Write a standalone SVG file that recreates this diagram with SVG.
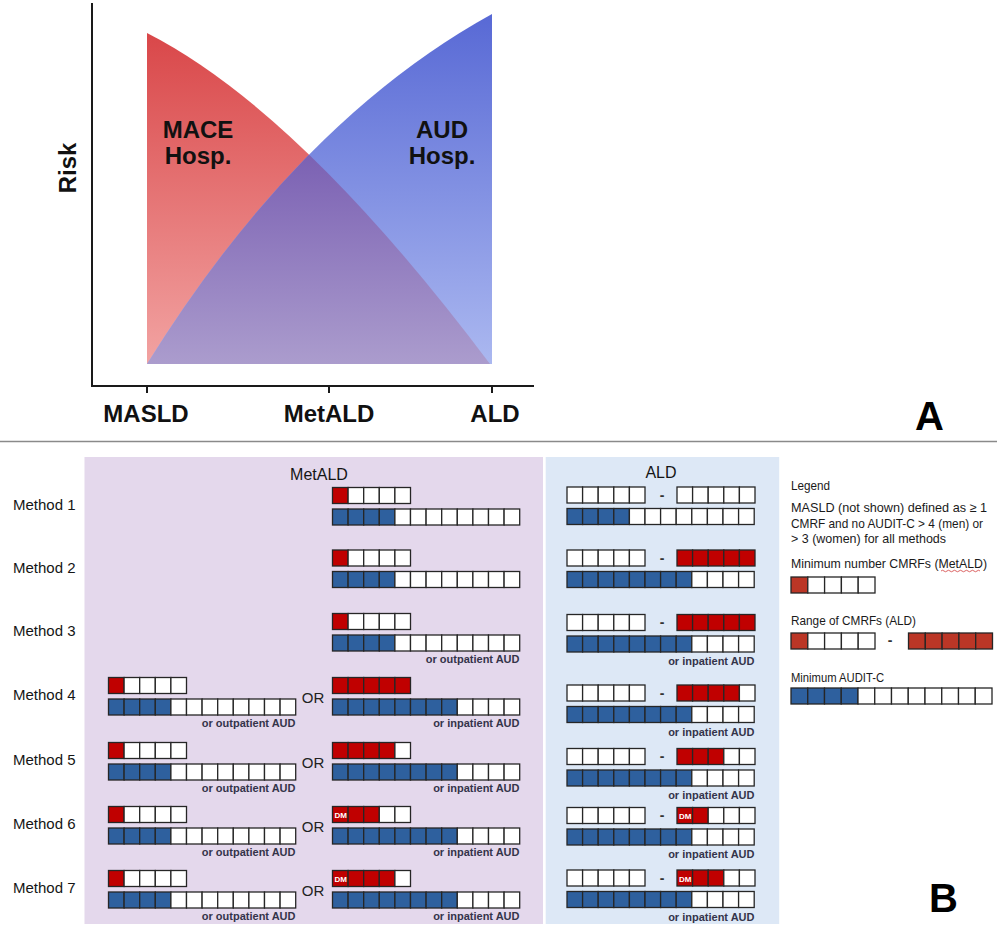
<svg xmlns="http://www.w3.org/2000/svg" width="1000" height="926" viewBox="0 0 1000 926">
<defs>
<style>
text{font-family:"Liberation Sans",Arial,sans-serif}
.ax{font-weight:bold;fill:#111;font-size:24px}
.lab{font-size:15px;fill:#151515}
.hd{font-size:16px;fill:#151515;text-anchor:middle}
.aud{font-size:11px;font-weight:bold;fill:#34344a;text-anchor:end}
.or{font-size:15px;fill:#222;text-anchor:middle}
.dash{font-size:14px;font-weight:bold;fill:#333;text-anchor:middle}
.dm{font-size:8px;font-weight:bold;fill:#fff}
.leg{font-size:13px;fill:#1a1a1a}
.cells rect{stroke:#262626;stroke-width:1.3}
.w{fill:#fff}.r{fill:#c00000}.b{fill:#2e609e}.lr{fill:#bb3626}
</style>
<linearGradient id="gr" gradientUnits="userSpaceOnUse" x1="0" y1="33" x2="0" y2="364"><stop offset="0" stop-color="#d94749"/><stop offset="1" stop-color="#f2a3a2"/></linearGradient>
<linearGradient id="gb" gradientUnits="userSpaceOnUse" x1="0" y1="14" x2="0" y2="364"><stop offset="0" stop-color="#5869d5"/><stop offset="1" stop-color="#abb8f0"/></linearGradient>
<linearGradient id="gp" gradientUnits="userSpaceOnUse" x1="0" y1="155" x2="0" y2="364"><stop offset="0" stop-color="#7b61b3"/><stop offset="1" stop-color="#ab9ccd"/></linearGradient>
<clipPath id="redclip"><path d="M147,33 Q300,111 490,364 L147,364 Z"/></clipPath>
</defs>
<rect width="1000" height="926" fill="#fff"/>

<g id="chart">
<path d="M147,33 Q300,111 490,364 L147,364 Z" fill="url(#gr)"/>
<path d="M147,364 Q298,121 492,14 L492,364 Z" fill="url(#gb)"/>
<path d="M147,364 Q298,121 492,14 L492,364 Z" fill="url(#gp)" clip-path="url(#redclip)"/>
<path d="M92,3 V386 H534 M147,386 V393 M329,386 V393 M492,386 V393" fill="none" stroke="#1a1a1a" stroke-width="2"/>
<text class="ax" transform="translate(76,168) rotate(-90)" text-anchor="middle">Risk</text>
<text class="ax" x="146" y="422" text-anchor="middle">MASLD</text>
<text class="ax" x="329" y="422" text-anchor="middle">MetALD</text>
<text class="ax" x="495" y="422" text-anchor="middle">ALD</text>
<text class="ax" x="198" y="138" text-anchor="middle" font-size="22.5">MACE</text>
<text class="ax" x="198" y="164" text-anchor="middle" font-size="22.5">Hosp.</text>
<text class="ax" x="442" y="138" text-anchor="middle" font-size="22.5">AUD</text>
<text class="ax" x="442" y="164" text-anchor="middle" font-size="22.5">Hosp.</text>
<text x="915" y="430" font-size="40" font-weight="bold" fill="#000">A</text>
</g>

<line x1="0" y1="441.5" x2="997" y2="441.5" stroke="#8a8a8a" stroke-width="1.5"/>

<g id="panels">
<rect x="84.5" y="457" width="458.5" height="467" fill="#e4d8ec"/>
<rect x="545.7" y="457" width="233.5" height="467" fill="#dde8f6"/>
<text class="hd" x="319" y="480">MetALD</text>
<text class="hd" x="661" y="478">ALD</text>
</g>

<g id="method-1">
<text class="lab" x="13" y="510">Method 1</text>
<g class="cells">
<rect class="r" x="332.5" y="487.5" width="15.6" height="16"/><rect class="w" x="348.1" y="487.5" width="15.6" height="16"/><rect class="w" x="363.7" y="487.5" width="15.6" height="16"/><rect class="w" x="379.3" y="487.5" width="15.6" height="16"/><rect class="w" x="394.9" y="487.5" width="15.6" height="16"/>
<rect class="b" x="332.5" y="509" width="15.6" height="16"/><rect class="b" x="348.1" y="509" width="15.6" height="16"/><rect class="b" x="363.7" y="509" width="15.6" height="16"/><rect class="b" x="379.3" y="509" width="15.6" height="16"/><rect class="w" x="394.9" y="509" width="15.6" height="16"/><rect class="w" x="410.5" y="509" width="15.6" height="16"/><rect class="w" x="426.1" y="509" width="15.6" height="16"/><rect class="w" x="441.7" y="509" width="15.6" height="16"/><rect class="w" x="457.3" y="509" width="15.6" height="16"/><rect class="w" x="472.9" y="509" width="15.6" height="16"/><rect class="w" x="488.5" y="509" width="15.6" height="16"/><rect class="w" x="504.1" y="509" width="15.6" height="16"/>
<rect class="w" x="567" y="487" width="15.6" height="16"/><rect class="w" x="582.6" y="487" width="15.6" height="16"/><rect class="w" x="598.2" y="487" width="15.6" height="16"/><rect class="w" x="613.8" y="487" width="15.6" height="16"/><rect class="w" x="629.4" y="487" width="15.6" height="16"/>
<rect class="w" x="677" y="487" width="15.6" height="16"/><rect class="w" x="692.6" y="487" width="15.6" height="16"/><rect class="w" x="708.2" y="487" width="15.6" height="16"/><rect class="w" x="723.8" y="487" width="15.6" height="16"/><rect class="w" x="739.4" y="487" width="15.6" height="16"/>
<rect class="b" x="567" y="508.5" width="15.6" height="16"/><rect class="b" x="582.6" y="508.5" width="15.6" height="16"/><rect class="b" x="598.2" y="508.5" width="15.6" height="16"/><rect class="b" x="613.8" y="508.5" width="15.6" height="16"/><rect class="w" x="629.4" y="508.5" width="15.6" height="16"/><rect class="w" x="645" y="508.5" width="15.6" height="16"/><rect class="w" x="660.6" y="508.5" width="15.6" height="16"/><rect class="w" x="676.2" y="508.5" width="15.6" height="16"/><rect class="w" x="691.8" y="508.5" width="15.6" height="16"/><rect class="w" x="707.4" y="508.5" width="15.6" height="16"/><rect class="w" x="723" y="508.5" width="15.6" height="16"/><rect class="w" x="738.6" y="508.5" width="15.6" height="16"/>
</g>
<text class="dash" x="662" y="499.5">-</text>
</g>

<g id="method-2">
<text class="lab" x="13" y="573">Method 2</text>
<g class="cells">
<rect class="r" x="332.5" y="550" width="15.6" height="16"/><rect class="w" x="348.1" y="550" width="15.6" height="16"/><rect class="w" x="363.7" y="550" width="15.6" height="16"/><rect class="w" x="379.3" y="550" width="15.6" height="16"/><rect class="w" x="394.9" y="550" width="15.6" height="16"/>
<rect class="b" x="332.5" y="571.5" width="15.6" height="16"/><rect class="b" x="348.1" y="571.5" width="15.6" height="16"/><rect class="b" x="363.7" y="571.5" width="15.6" height="16"/><rect class="b" x="379.3" y="571.5" width="15.6" height="16"/><rect class="w" x="394.9" y="571.5" width="15.6" height="16"/><rect class="w" x="410.5" y="571.5" width="15.6" height="16"/><rect class="w" x="426.1" y="571.5" width="15.6" height="16"/><rect class="w" x="441.7" y="571.5" width="15.6" height="16"/><rect class="w" x="457.3" y="571.5" width="15.6" height="16"/><rect class="w" x="472.9" y="571.5" width="15.6" height="16"/><rect class="w" x="488.5" y="571.5" width="15.6" height="16"/><rect class="w" x="504.1" y="571.5" width="15.6" height="16"/>
<rect class="w" x="567" y="550" width="15.6" height="16"/><rect class="w" x="582.6" y="550" width="15.6" height="16"/><rect class="w" x="598.2" y="550" width="15.6" height="16"/><rect class="w" x="613.8" y="550" width="15.6" height="16"/><rect class="w" x="629.4" y="550" width="15.6" height="16"/>
<rect class="r" x="677" y="550" width="15.6" height="16"/><rect class="r" x="692.6" y="550" width="15.6" height="16"/><rect class="r" x="708.2" y="550" width="15.6" height="16"/><rect class="r" x="723.8" y="550" width="15.6" height="16"/><rect class="r" x="739.4" y="550" width="15.6" height="16"/>
<rect class="b" x="567" y="571.5" width="15.6" height="16"/><rect class="b" x="582.6" y="571.5" width="15.6" height="16"/><rect class="b" x="598.2" y="571.5" width="15.6" height="16"/><rect class="b" x="613.8" y="571.5" width="15.6" height="16"/><rect class="b" x="629.4" y="571.5" width="15.6" height="16"/><rect class="b" x="645" y="571.5" width="15.6" height="16"/><rect class="b" x="660.6" y="571.5" width="15.6" height="16"/><rect class="b" x="676.2" y="571.5" width="15.6" height="16"/><rect class="w" x="691.8" y="571.5" width="15.6" height="16"/><rect class="w" x="707.4" y="571.5" width="15.6" height="16"/><rect class="w" x="723" y="571.5" width="15.6" height="16"/><rect class="w" x="738.6" y="571.5" width="15.6" height="16"/>
</g>
<text class="dash" x="662" y="562.5">-</text>
</g>

<g id="method-3">
<text class="lab" x="13" y="636">Method 3</text>
<g class="cells">
<rect class="r" x="332.5" y="613.5" width="15.6" height="16"/><rect class="w" x="348.1" y="613.5" width="15.6" height="16"/><rect class="w" x="363.7" y="613.5" width="15.6" height="16"/><rect class="w" x="379.3" y="613.5" width="15.6" height="16"/><rect class="w" x="394.9" y="613.5" width="15.6" height="16"/>
<rect class="b" x="332.5" y="635" width="15.6" height="16"/><rect class="b" x="348.1" y="635" width="15.6" height="16"/><rect class="b" x="363.7" y="635" width="15.6" height="16"/><rect class="b" x="379.3" y="635" width="15.6" height="16"/><rect class="w" x="394.9" y="635" width="15.6" height="16"/><rect class="w" x="410.5" y="635" width="15.6" height="16"/><rect class="w" x="426.1" y="635" width="15.6" height="16"/><rect class="w" x="441.7" y="635" width="15.6" height="16"/><rect class="w" x="457.3" y="635" width="15.6" height="16"/><rect class="w" x="472.9" y="635" width="15.6" height="16"/><rect class="w" x="488.5" y="635" width="15.6" height="16"/><rect class="w" x="504.1" y="635" width="15.6" height="16"/>
<rect class="w" x="567" y="614.5" width="15.6" height="16"/><rect class="w" x="582.6" y="614.5" width="15.6" height="16"/><rect class="w" x="598.2" y="614.5" width="15.6" height="16"/><rect class="w" x="613.8" y="614.5" width="15.6" height="16"/><rect class="w" x="629.4" y="614.5" width="15.6" height="16"/>
<rect class="r" x="677" y="614.5" width="15.6" height="16"/><rect class="r" x="692.6" y="614.5" width="15.6" height="16"/><rect class="r" x="708.2" y="614.5" width="15.6" height="16"/><rect class="r" x="723.8" y="614.5" width="15.6" height="16"/><rect class="r" x="739.4" y="614.5" width="15.6" height="16"/>
<rect class="b" x="567" y="636" width="15.6" height="16"/><rect class="b" x="582.6" y="636" width="15.6" height="16"/><rect class="b" x="598.2" y="636" width="15.6" height="16"/><rect class="b" x="613.8" y="636" width="15.6" height="16"/><rect class="b" x="629.4" y="636" width="15.6" height="16"/><rect class="b" x="645" y="636" width="15.6" height="16"/><rect class="b" x="660.6" y="636" width="15.6" height="16"/><rect class="b" x="676.2" y="636" width="15.6" height="16"/><rect class="w" x="691.8" y="636" width="15.6" height="16"/><rect class="w" x="707.4" y="636" width="15.6" height="16"/><rect class="w" x="723" y="636" width="15.6" height="16"/><rect class="w" x="738.6" y="636" width="15.6" height="16"/>
</g>
<text class="dash" x="662" y="627">-</text>
<text class="aud" x="519.5" y="663">or outpatient AUD</text>
<text class="aud" x="754.5" y="665">or inpatient AUD</text>
</g>

<g id="method-4">
<text class="lab" x="13" y="700">Method 4</text>
<g class="cells">
<rect class="r" x="108.5" y="677.5" width="15.6" height="16"/><rect class="w" x="124.1" y="677.5" width="15.6" height="16"/><rect class="w" x="139.7" y="677.5" width="15.6" height="16"/><rect class="w" x="155.3" y="677.5" width="15.6" height="16"/><rect class="w" x="170.9" y="677.5" width="15.6" height="16"/>
<rect class="b" x="108.5" y="699" width="15.6" height="16"/><rect class="b" x="124.1" y="699" width="15.6" height="16"/><rect class="b" x="139.7" y="699" width="15.6" height="16"/><rect class="b" x="155.3" y="699" width="15.6" height="16"/><rect class="w" x="170.9" y="699" width="15.6" height="16"/><rect class="w" x="186.5" y="699" width="15.6" height="16"/><rect class="w" x="202.1" y="699" width="15.6" height="16"/><rect class="w" x="217.7" y="699" width="15.6" height="16"/><rect class="w" x="233.3" y="699" width="15.6" height="16"/><rect class="w" x="248.9" y="699" width="15.6" height="16"/><rect class="w" x="264.5" y="699" width="15.6" height="16"/><rect class="w" x="280.1" y="699" width="15.6" height="16"/>
<rect class="r" x="332.5" y="677.5" width="15.6" height="16"/><rect class="r" x="348.1" y="677.5" width="15.6" height="16"/><rect class="r" x="363.7" y="677.5" width="15.6" height="16"/><rect class="r" x="379.3" y="677.5" width="15.6" height="16"/><rect class="r" x="394.9" y="677.5" width="15.6" height="16"/>
<rect class="b" x="332.5" y="699" width="15.6" height="16"/><rect class="b" x="348.1" y="699" width="15.6" height="16"/><rect class="b" x="363.7" y="699" width="15.6" height="16"/><rect class="b" x="379.3" y="699" width="15.6" height="16"/><rect class="b" x="394.9" y="699" width="15.6" height="16"/><rect class="b" x="410.5" y="699" width="15.6" height="16"/><rect class="b" x="426.1" y="699" width="15.6" height="16"/><rect class="b" x="441.7" y="699" width="15.6" height="16"/><rect class="w" x="457.3" y="699" width="15.6" height="16"/><rect class="w" x="472.9" y="699" width="15.6" height="16"/><rect class="w" x="488.5" y="699" width="15.6" height="16"/><rect class="w" x="504.1" y="699" width="15.6" height="16"/>
<rect class="w" x="567" y="685" width="15.6" height="16"/><rect class="w" x="582.6" y="685" width="15.6" height="16"/><rect class="w" x="598.2" y="685" width="15.6" height="16"/><rect class="w" x="613.8" y="685" width="15.6" height="16"/><rect class="w" x="629.4" y="685" width="15.6" height="16"/>
<rect class="r" x="677" y="685" width="15.6" height="16"/><rect class="r" x="692.6" y="685" width="15.6" height="16"/><rect class="r" x="708.2" y="685" width="15.6" height="16"/><rect class="r" x="723.8" y="685" width="15.6" height="16"/><rect class="w" x="739.4" y="685" width="15.6" height="16"/>
<rect class="b" x="567" y="706.5" width="15.6" height="16"/><rect class="b" x="582.6" y="706.5" width="15.6" height="16"/><rect class="b" x="598.2" y="706.5" width="15.6" height="16"/><rect class="b" x="613.8" y="706.5" width="15.6" height="16"/><rect class="b" x="629.4" y="706.5" width="15.6" height="16"/><rect class="b" x="645" y="706.5" width="15.6" height="16"/><rect class="b" x="660.6" y="706.5" width="15.6" height="16"/><rect class="b" x="676.2" y="706.5" width="15.6" height="16"/><rect class="w" x="691.8" y="706.5" width="15.6" height="16"/><rect class="w" x="707.4" y="706.5" width="15.6" height="16"/><rect class="w" x="723" y="706.5" width="15.6" height="16"/><rect class="w" x="738.6" y="706.5" width="15.6" height="16"/>
</g>
<text class="or" x="313" y="703">OR</text>
<text class="dash" x="662" y="697.5">-</text>
<text class="aud" x="295.5" y="727">or outpatient AUD</text>
<text class="aud" x="519.5" y="727">or inpatient AUD</text>
<text class="aud" x="754.5" y="735.5">or inpatient AUD</text>
</g>

<g id="method-5">
<text class="lab" x="13" y="765">Method 5</text>
<g class="cells">
<rect class="r" x="108.5" y="742.5" width="15.6" height="16"/><rect class="w" x="124.1" y="742.5" width="15.6" height="16"/><rect class="w" x="139.7" y="742.5" width="15.6" height="16"/><rect class="w" x="155.3" y="742.5" width="15.6" height="16"/><rect class="w" x="170.9" y="742.5" width="15.6" height="16"/>
<rect class="b" x="108.5" y="764" width="15.6" height="16"/><rect class="b" x="124.1" y="764" width="15.6" height="16"/><rect class="b" x="139.7" y="764" width="15.6" height="16"/><rect class="b" x="155.3" y="764" width="15.6" height="16"/><rect class="w" x="170.9" y="764" width="15.6" height="16"/><rect class="w" x="186.5" y="764" width="15.6" height="16"/><rect class="w" x="202.1" y="764" width="15.6" height="16"/><rect class="w" x="217.7" y="764" width="15.6" height="16"/><rect class="w" x="233.3" y="764" width="15.6" height="16"/><rect class="w" x="248.9" y="764" width="15.6" height="16"/><rect class="w" x="264.5" y="764" width="15.6" height="16"/><rect class="w" x="280.1" y="764" width="15.6" height="16"/>
<rect class="r" x="332.5" y="742.5" width="15.6" height="16"/><rect class="r" x="348.1" y="742.5" width="15.6" height="16"/><rect class="r" x="363.7" y="742.5" width="15.6" height="16"/><rect class="r" x="379.3" y="742.5" width="15.6" height="16"/><rect class="w" x="394.9" y="742.5" width="15.6" height="16"/>
<rect class="b" x="332.5" y="764" width="15.6" height="16"/><rect class="b" x="348.1" y="764" width="15.6" height="16"/><rect class="b" x="363.7" y="764" width="15.6" height="16"/><rect class="b" x="379.3" y="764" width="15.6" height="16"/><rect class="b" x="394.9" y="764" width="15.6" height="16"/><rect class="b" x="410.5" y="764" width="15.6" height="16"/><rect class="b" x="426.1" y="764" width="15.6" height="16"/><rect class="b" x="441.7" y="764" width="15.6" height="16"/><rect class="w" x="457.3" y="764" width="15.6" height="16"/><rect class="w" x="472.9" y="764" width="15.6" height="16"/><rect class="w" x="488.5" y="764" width="15.6" height="16"/><rect class="w" x="504.1" y="764" width="15.6" height="16"/>
<rect class="w" x="567" y="748.5" width="15.6" height="16"/><rect class="w" x="582.6" y="748.5" width="15.6" height="16"/><rect class="w" x="598.2" y="748.5" width="15.6" height="16"/><rect class="w" x="613.8" y="748.5" width="15.6" height="16"/><rect class="w" x="629.4" y="748.5" width="15.6" height="16"/>
<rect class="r" x="677" y="748.5" width="15.6" height="16"/><rect class="r" x="692.6" y="748.5" width="15.6" height="16"/><rect class="r" x="708.2" y="748.5" width="15.6" height="16"/><rect class="w" x="723.8" y="748.5" width="15.6" height="16"/><rect class="w" x="739.4" y="748.5" width="15.6" height="16"/>
<rect class="b" x="567" y="770" width="15.6" height="16"/><rect class="b" x="582.6" y="770" width="15.6" height="16"/><rect class="b" x="598.2" y="770" width="15.6" height="16"/><rect class="b" x="613.8" y="770" width="15.6" height="16"/><rect class="b" x="629.4" y="770" width="15.6" height="16"/><rect class="b" x="645" y="770" width="15.6" height="16"/><rect class="b" x="660.6" y="770" width="15.6" height="16"/><rect class="b" x="676.2" y="770" width="15.6" height="16"/><rect class="w" x="691.8" y="770" width="15.6" height="16"/><rect class="w" x="707.4" y="770" width="15.6" height="16"/><rect class="w" x="723" y="770" width="15.6" height="16"/><rect class="w" x="738.6" y="770" width="15.6" height="16"/>
</g>
<text class="or" x="313" y="768">OR</text>
<text class="dash" x="662" y="761">-</text>
<text class="aud" x="295.5" y="792">or outpatient AUD</text>
<text class="aud" x="519.5" y="792">or inpatient AUD</text>
<text class="aud" x="754.5" y="799">or inpatient AUD</text>
</g>

<g id="method-6">
<text class="lab" x="13" y="829">Method 6</text>
<g class="cells">
<rect class="r" x="108.5" y="806.5" width="15.6" height="16"/><rect class="w" x="124.1" y="806.5" width="15.6" height="16"/><rect class="w" x="139.7" y="806.5" width="15.6" height="16"/><rect class="w" x="155.3" y="806.5" width="15.6" height="16"/><rect class="w" x="170.9" y="806.5" width="15.6" height="16"/>
<rect class="b" x="108.5" y="828" width="15.6" height="16"/><rect class="b" x="124.1" y="828" width="15.6" height="16"/><rect class="b" x="139.7" y="828" width="15.6" height="16"/><rect class="b" x="155.3" y="828" width="15.6" height="16"/><rect class="w" x="170.9" y="828" width="15.6" height="16"/><rect class="w" x="186.5" y="828" width="15.6" height="16"/><rect class="w" x="202.1" y="828" width="15.6" height="16"/><rect class="w" x="217.7" y="828" width="15.6" height="16"/><rect class="w" x="233.3" y="828" width="15.6" height="16"/><rect class="w" x="248.9" y="828" width="15.6" height="16"/><rect class="w" x="264.5" y="828" width="15.6" height="16"/><rect class="w" x="280.1" y="828" width="15.6" height="16"/>
<rect class="r" x="332.5" y="806.5" width="15.6" height="16"/><rect class="r" x="348.1" y="806.5" width="15.6" height="16"/><rect class="r" x="363.7" y="806.5" width="15.6" height="16"/><rect class="w" x="379.3" y="806.5" width="15.6" height="16"/><rect class="w" x="394.9" y="806.5" width="15.6" height="16"/>
<rect class="b" x="332.5" y="828" width="15.6" height="16"/><rect class="b" x="348.1" y="828" width="15.6" height="16"/><rect class="b" x="363.7" y="828" width="15.6" height="16"/><rect class="b" x="379.3" y="828" width="15.6" height="16"/><rect class="b" x="394.9" y="828" width="15.6" height="16"/><rect class="b" x="410.5" y="828" width="15.6" height="16"/><rect class="b" x="426.1" y="828" width="15.6" height="16"/><rect class="b" x="441.7" y="828" width="15.6" height="16"/><rect class="w" x="457.3" y="828" width="15.6" height="16"/><rect class="w" x="472.9" y="828" width="15.6" height="16"/><rect class="w" x="488.5" y="828" width="15.6" height="16"/><rect class="w" x="504.1" y="828" width="15.6" height="16"/>
<rect class="w" x="567" y="807.5" width="15.6" height="16"/><rect class="w" x="582.6" y="807.5" width="15.6" height="16"/><rect class="w" x="598.2" y="807.5" width="15.6" height="16"/><rect class="w" x="613.8" y="807.5" width="15.6" height="16"/><rect class="w" x="629.4" y="807.5" width="15.6" height="16"/>
<rect class="r" x="677" y="807.5" width="15.6" height="16"/><rect class="r" x="692.6" y="807.5" width="15.6" height="16"/><rect class="w" x="708.2" y="807.5" width="15.6" height="16"/><rect class="w" x="723.8" y="807.5" width="15.6" height="16"/><rect class="w" x="739.4" y="807.5" width="15.6" height="16"/>
<rect class="b" x="567" y="829" width="15.6" height="16"/><rect class="b" x="582.6" y="829" width="15.6" height="16"/><rect class="b" x="598.2" y="829" width="15.6" height="16"/><rect class="b" x="613.8" y="829" width="15.6" height="16"/><rect class="b" x="629.4" y="829" width="15.6" height="16"/><rect class="b" x="645" y="829" width="15.6" height="16"/><rect class="b" x="660.6" y="829" width="15.6" height="16"/><rect class="b" x="676.2" y="829" width="15.6" height="16"/><rect class="w" x="691.8" y="829" width="15.6" height="16"/><rect class="w" x="707.4" y="829" width="15.6" height="16"/><rect class="w" x="723" y="829" width="15.6" height="16"/><rect class="w" x="738.6" y="829" width="15.6" height="16"/>
</g>
<text class="dm" x="334.5" y="818">DM</text>
<text class="dm" x="679" y="819">DM</text>
<text class="or" x="313" y="832">OR</text>
<text class="dash" x="662" y="820">-</text>
<text class="aud" x="295.5" y="856">or outpatient AUD</text>
<text class="aud" x="519.5" y="856">or inpatient AUD</text>
<text class="aud" x="754.5" y="858">or inpatient AUD</text>
</g>

<g id="method-7">
<text class="lab" x="13" y="893">Method 7</text>
<g class="cells">
<rect class="r" x="108.5" y="870.5" width="15.6" height="16"/><rect class="w" x="124.1" y="870.5" width="15.6" height="16"/><rect class="w" x="139.7" y="870.5" width="15.6" height="16"/><rect class="w" x="155.3" y="870.5" width="15.6" height="16"/><rect class="w" x="170.9" y="870.5" width="15.6" height="16"/>
<rect class="b" x="108.5" y="892" width="15.6" height="16"/><rect class="b" x="124.1" y="892" width="15.6" height="16"/><rect class="b" x="139.7" y="892" width="15.6" height="16"/><rect class="b" x="155.3" y="892" width="15.6" height="16"/><rect class="w" x="170.9" y="892" width="15.6" height="16"/><rect class="w" x="186.5" y="892" width="15.6" height="16"/><rect class="w" x="202.1" y="892" width="15.6" height="16"/><rect class="w" x="217.7" y="892" width="15.6" height="16"/><rect class="w" x="233.3" y="892" width="15.6" height="16"/><rect class="w" x="248.9" y="892" width="15.6" height="16"/><rect class="w" x="264.5" y="892" width="15.6" height="16"/><rect class="w" x="280.1" y="892" width="15.6" height="16"/>
<rect class="r" x="332.5" y="870.5" width="15.6" height="16"/><rect class="r" x="348.1" y="870.5" width="15.6" height="16"/><rect class="r" x="363.7" y="870.5" width="15.6" height="16"/><rect class="r" x="379.3" y="870.5" width="15.6" height="16"/><rect class="w" x="394.9" y="870.5" width="15.6" height="16"/>
<rect class="b" x="332.5" y="892" width="15.6" height="16"/><rect class="b" x="348.1" y="892" width="15.6" height="16"/><rect class="b" x="363.7" y="892" width="15.6" height="16"/><rect class="b" x="379.3" y="892" width="15.6" height="16"/><rect class="b" x="394.9" y="892" width="15.6" height="16"/><rect class="b" x="410.5" y="892" width="15.6" height="16"/><rect class="b" x="426.1" y="892" width="15.6" height="16"/><rect class="b" x="441.7" y="892" width="15.6" height="16"/><rect class="w" x="457.3" y="892" width="15.6" height="16"/><rect class="w" x="472.9" y="892" width="15.6" height="16"/><rect class="w" x="488.5" y="892" width="15.6" height="16"/><rect class="w" x="504.1" y="892" width="15.6" height="16"/>
<rect class="w" x="567" y="870" width="15.6" height="16"/><rect class="w" x="582.6" y="870" width="15.6" height="16"/><rect class="w" x="598.2" y="870" width="15.6" height="16"/><rect class="w" x="613.8" y="870" width="15.6" height="16"/><rect class="w" x="629.4" y="870" width="15.6" height="16"/>
<rect class="r" x="677" y="870" width="15.6" height="16"/><rect class="r" x="692.6" y="870" width="15.6" height="16"/><rect class="r" x="708.2" y="870" width="15.6" height="16"/><rect class="w" x="723.8" y="870" width="15.6" height="16"/><rect class="w" x="739.4" y="870" width="15.6" height="16"/>
<rect class="b" x="567" y="891.5" width="15.6" height="16"/><rect class="b" x="582.6" y="891.5" width="15.6" height="16"/><rect class="b" x="598.2" y="891.5" width="15.6" height="16"/><rect class="b" x="613.8" y="891.5" width="15.6" height="16"/><rect class="b" x="629.4" y="891.5" width="15.6" height="16"/><rect class="b" x="645" y="891.5" width="15.6" height="16"/><rect class="b" x="660.6" y="891.5" width="15.6" height="16"/><rect class="b" x="676.2" y="891.5" width="15.6" height="16"/><rect class="w" x="691.8" y="891.5" width="15.6" height="16"/><rect class="w" x="707.4" y="891.5" width="15.6" height="16"/><rect class="w" x="723" y="891.5" width="15.6" height="16"/><rect class="w" x="738.6" y="891.5" width="15.6" height="16"/>
</g>
<text class="dm" x="334.5" y="882">DM</text>
<text class="dm" x="679" y="881.5">DM</text>
<text class="or" x="313" y="896">OR</text>
<text class="dash" x="662" y="882.5">-</text>
<text class="aud" x="295.5" y="920">or outpatient AUD</text>
<text class="aud" x="519.5" y="920">or inpatient AUD</text>
<text class="aud" x="754.5" y="920.5">or inpatient AUD</text>
</g>

<g id="legend">
<text class="leg" x="791" y="490" textLength="39" lengthAdjust="spacingAndGlyphs">Legend</text>
<text class="leg" x="791" y="512" textLength="196" lengthAdjust="spacingAndGlyphs">MASLD (not shown) defined as ≥ 1</text>
<text class="leg" x="791" y="527.5" textLength="192" lengthAdjust="spacingAndGlyphs">CMRF and no AUDIT-C &gt; 4 (men) or</text>
<text class="leg" x="791" y="543" textLength="155" lengthAdjust="spacingAndGlyphs">&gt; 3 (women) for all methods</text>
<text class="leg" x="791" y="568" textLength="196" lengthAdjust="spacingAndGlyphs">Minimum number CMRFs (MetALD)</text>
<path d="M941,571 q1.5,-1.5 3,0 t3,0 t3,0 t3,0 t3,0 t3,0 t3,0 t3,0 t3,0 t3,0 t3,0 t3,0 t3,0" fill="none" stroke="#d23c3c" stroke-width="0.8"/>
<text class="leg" x="791" y="625" textLength="125" lengthAdjust="spacingAndGlyphs">Range of CMRFs (ALD)</text>
<text class="leg" x="791" y="682" textLength="93" lengthAdjust="spacingAndGlyphs">Minimum AUDIT-C</text>
<text class="dash" x="890" y="645">-</text>
<g class="cells">
<rect class="lr" x="791" y="577" width="16.8" height="16"/><rect class="w" x="807.8" y="577" width="16.8" height="16"/><rect class="w" x="824.6" y="577" width="16.8" height="16"/><rect class="w" x="841.4" y="577" width="16.8" height="16"/><rect class="w" x="858.2" y="577" width="16.8" height="16"/>
<rect class="lr" x="791" y="633" width="16.8" height="16"/><rect class="w" x="807.8" y="633" width="16.8" height="16"/><rect class="w" x="824.6" y="633" width="16.8" height="16"/><rect class="w" x="841.4" y="633" width="16.8" height="16"/><rect class="w" x="858.2" y="633" width="16.8" height="16"/>
<rect class="lr" x="908.5" y="633" width="16.8" height="16"/><rect class="lr" x="925.3" y="633" width="16.8" height="16"/><rect class="lr" x="942.1" y="633" width="16.8" height="16"/><rect class="lr" x="958.9" y="633" width="16.8" height="16"/><rect class="lr" x="975.7" y="633" width="16.8" height="16"/>
<rect class="b" x="791" y="688" width="16.75" height="16"/><rect class="b" x="807.75" y="688" width="16.75" height="16"/><rect class="b" x="824.5" y="688" width="16.75" height="16"/><rect class="b" x="841.25" y="688" width="16.75" height="16"/><rect class="w" x="858" y="688" width="16.75" height="16"/><rect class="w" x="874.75" y="688" width="16.75" height="16"/><rect class="w" x="891.5" y="688" width="16.75" height="16"/><rect class="w" x="908.25" y="688" width="16.75" height="16"/><rect class="w" x="925" y="688" width="16.75" height="16"/><rect class="w" x="941.75" y="688" width="16.75" height="16"/><rect class="w" x="958.5" y="688" width="16.75" height="16"/><rect class="w" x="975.25" y="688" width="16.75" height="16"/>
</g>
</g>

<text x="929" y="912" font-size="40" font-weight="bold" fill="#000">B</text>
</svg>
